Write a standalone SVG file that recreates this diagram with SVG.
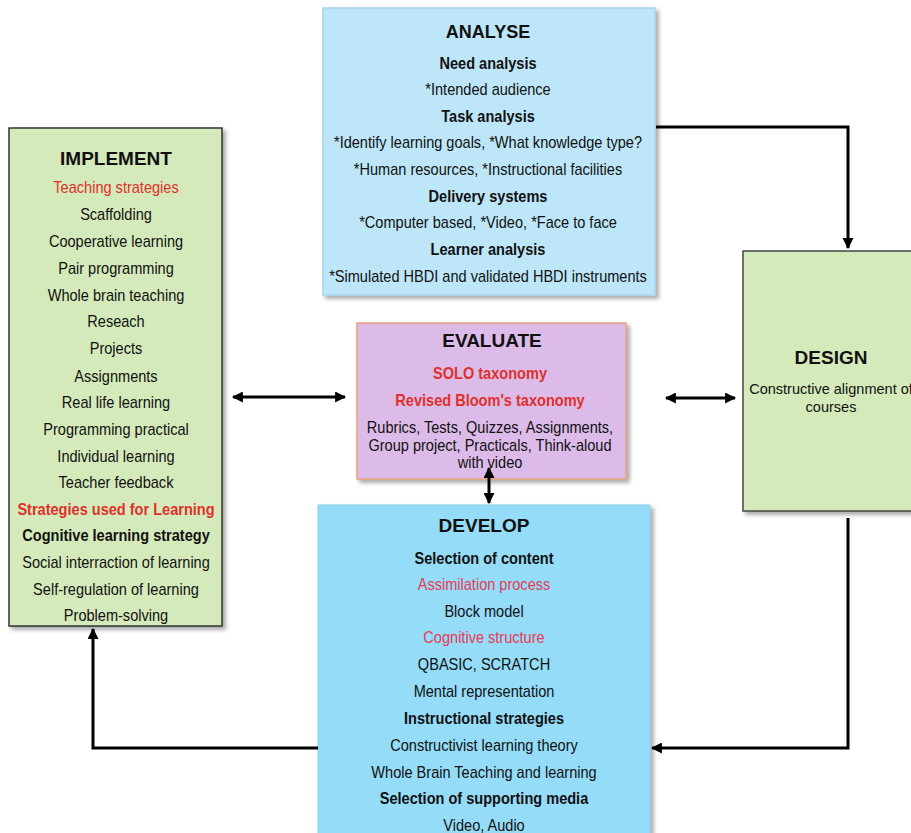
<svg xmlns="http://www.w3.org/2000/svg" width="911" height="833" viewBox="0 0 911 833">
<style>
text{font-family:"Liberation Sans",Arial,sans-serif;text-anchor:middle;fill:#111}
.t{font-size:19px;font-weight:bold}
.b{font-size:16px}
.bb{font-size:16px;font-weight:bold}
.red{fill:#e0302a}
.pink{fill:#e83a52}
.c{stroke:#000;stroke-width:3;fill:none}
</style>
<defs>
<filter id="sh" x="-5%" y="-5%" width="115%" height="115%">
<feDropShadow dx="3" dy="3" stdDeviation="2" flood-color="#000" flood-opacity="0.35"/>
</filter>
<marker id="ah" viewBox="0 0 10 10" refX="9" refY="5" markerWidth="11" markerHeight="11" markerUnits="userSpaceOnUse" orient="auto-start-reverse">
<path d="M0,0 L10,5 L0,10 z" fill="#000"/>
</marker>
</defs>
<rect width="911" height="833" fill="#fff"/>

<g id="analyse">
<rect x="323" y="8" width="332" height="287" fill="#bde6f8" stroke="#a3d6ec" stroke-width="1.5" filter="url(#sh)"/>
<text class="t" x="488" y="38" style="font-size:18px">ANALYSE</text>
<g transform="translate(488,0) scale(0.91,1)">
<text class="bb" x="0" y="69">Need analysis</text>
<text class="b" x="0" y="95">*Intended audience</text>
<text class="bb" x="0" y="122">Task analysis</text>
<text class="b" x="0" y="148">*Identify learning goals, *What knowledge type?</text>
<text class="b" x="0" y="175">*Human resources, *Instructional facilities</text>
<text class="bb" x="0" y="202">Delivery systems</text>
<text class="b" x="0" y="228">*Computer based, *Video, *Face to face</text>
<text class="bb" x="0" y="255">Learner analysis</text>
<text class="b" x="0" y="282">*Simulated HBDI and validated HBDI instruments</text>
</g>
</g>

<g id="implement">
<rect x="9" y="128" width="213" height="498" fill="#d5eabb" stroke="#333" stroke-width="1.5" filter="url(#sh)"/>
<text class="t" x="116" y="165">IMPLEMENT</text>
<g transform="translate(116,0) scale(0.91,1)">
<text class="b red" x="0" y="193">Teaching strategies</text>
<text class="b" x="0" y="220">Scaffolding</text>
<text class="b" x="0" y="247">Cooperative learning</text>
<text class="b" x="0" y="274">Pair programming</text>
<text class="b" x="0" y="301">Whole brain teaching</text>
<text class="b" x="0" y="327">Reseach</text>
<text class="b" x="0" y="354">Projects</text>
<text class="b" x="0" y="382">Assignments</text>
<text class="b" x="0" y="408">Real life learning</text>
<text class="b" x="0" y="435">Programming practical</text>
<text class="b" x="0" y="462">Individual learning</text>
<text class="b" x="0" y="488">Teacher feedback</text>
<text class="bb red" x="0" y="515">Strategies used for Learning</text>
<text class="bb" x="0" y="541">Cognitive learning strategy</text>
<text class="b" x="0" y="568">Social interraction of learning</text>
<text class="b" x="0" y="595">Self-regulation of learning</text>
<text class="b" x="0" y="621">Problem-solving</text>
</g>
</g>

<g id="evaluate">
<rect x="357" y="323" width="269" height="156" fill="#dcbbe9" stroke="#e9a07a" stroke-width="1.5" filter="url(#sh)"/>
<text class="t" x="492" y="347">EVALUATE</text>
<g transform="translate(490,0) scale(0.91,1)">
<text class="bb red" x="0" y="379">SOLO taxonomy</text>
<text class="bb red" x="0" y="406">Revised Bloom's taxonomy</text>
<text class="b" x="0" y="433">Rubrics, Tests, Quizzes, Assignments,</text>
<text class="b" x="0" y="451">Group project, Practicals, Think-aloud</text>
<text class="b" x="0" y="468">with video</text>
</g>
</g>

<g id="develop">
<rect x="318" y="505" width="332" height="340" fill="#94dcf8" stroke="#86cfe9" stroke-width="1" filter="url(#sh)"/>
<text class="t" x="484" y="532">DEVELOP</text>
<g transform="translate(484,0) scale(0.91,1)">
<text class="bb" x="0" y="564">Selection of content</text>
<text class="b pink" x="0" y="590">Assimilation process</text>
<text class="b" x="0" y="617">Block model</text>
<text class="b pink" x="0" y="643">Cognitive structure</text>
<text class="b" x="0" y="670">QBASIC, SCRATCH</text>
<text class="b" x="0" y="697">Mental representation</text>
<text class="bb" x="0" y="724">Instructional strategies</text>
<text class="b" x="0" y="751">Constructivist learning theory</text>
<text class="b" x="0" y="778">Whole Brain Teaching and learning</text>
<text class="bb" x="0" y="804">Selection of supporting media</text>
<text class="b" x="0" y="831">Video, Audio</text>
</g>
</g>

<g id="design">
<rect x="743" y="251" width="175" height="260" fill="#d5eabb" stroke="#444" stroke-width="1.5" filter="url(#sh)"/>
<text class="t" x="831" y="364">DESIGN</text>
<text x="831" y="394" style="font-size:14.5px">Constructive alignment of</text>
<text x="831" y="412" style="font-size:14.5px">courses</text>
</g>

<g id="connectors">
<path class="c" d="M656,127 H848 V248" marker-end="url(#ah)"/>
<path class="c" d="M848,518 V748 H652" marker-end="url(#ah)"/>
<path class="c" d="M318,748 H93 V629" marker-end="url(#ah)"/>
<path class="c" d="M233,397 H345" marker-start="url(#ah)" marker-end="url(#ah)"/>
<path class="c" d="M666,398 H735" marker-start="url(#ah)" marker-end="url(#ah)"/>
<path class="c" d="M489,468 V503" marker-start="url(#ah)" marker-end="url(#ah)"/>
</g>
</svg>
